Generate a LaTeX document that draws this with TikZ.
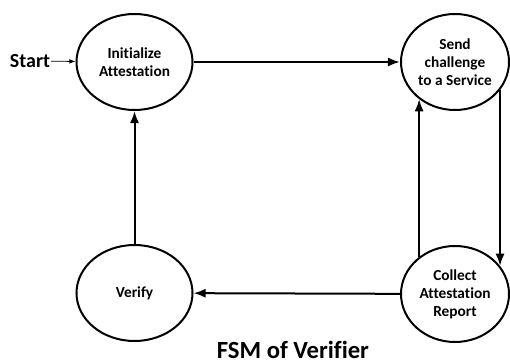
\documentclass[tikz,border=0pt]{standalone}
\usepackage{fontspec}
\setmainfont{Carlito}[Ligatures=NoCommon]
\usepackage{tikz}
\usetikzlibrary{arrows.meta,positioning,shapes.geometric}

\begin{document}
\begin{tikzpicture}[
  x=0.75pt,y=-0.75pt,
  state/.style={draw,ellipse,line width=1.5pt,minimum width=87pt,minimum height=72pt,inner sep=0pt,font=\bfseries\fontsize{11.5}{13.5}\selectfont,align=center},
  arr/.style={-{Latex[length=3.2mm,width=2.4mm]},line width=1.5pt},
  thin/.style={-{Latex[length=1.6mm,width=1.2mm]},line width=0.6pt}
]
\useasboundingbox (0,0) rectangle (510,363);

\node[state] (init) at (134.5,62) {Initialize\\Attestation};
\node[state,minimum width=81pt] (send) at (455,62) {Send\\challenge\\to a Service};
\node[state,minimum width=81pt] (collect) at (455,294) {Collect\\Attestation\\Report};
\node[state] (verify) at (134.5,293) {Verify};

\node[font=\bfseries\fontsize{15}{18}\selectfont,anchor=east,inner sep=0.5pt] (start) at (51,61) {Start};
\node[font=\bfseries\fontsize{18.5}{22}\selectfont] (title) at (293,350) {FSM of Verifier};

\draw[thin] (start) -- (init);
\draw[arr] (init) -- (send);
\draw[arr] (send.-32) -- (collect.32);
\draw[arr] (collect.134) -- (send.-134);
\draw[arr] (collect) -- (verify);
\draw[arr] (verify) -- (init);

\end{tikzpicture}
\end{document}
